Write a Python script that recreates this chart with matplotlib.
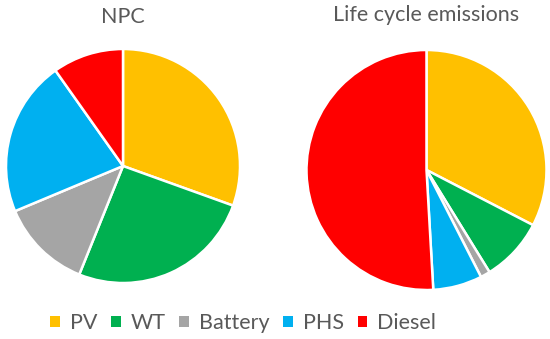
import matplotlib.pyplot as plt
from matplotlib.patches import Patch

plt.rcParams['font.family'] = ['Lato', 'DejaVu Sans']

# data (shares in %)
labels = ['PV', 'WT', 'Battery', 'PHS', 'Diesel']
colors = ['#FFC000', '#00B050', '#A5A5A5', '#00B0F0', '#FF0000']
npc = [30.5, 25.6, 12.6, 21.5, 9.8]
emissions = [32.6, 8.6, 1.3, 6.6, 50.9]

text_col = '#595959'

fig = plt.figure(figsize=(5.5, 3.39), dpi=100)
W, H = 550, 339

def pie_axes(cx, cy, r):
    return fig.add_axes([(cx - r) / W, 1 - (cy + r) / H, 2 * r / W, 2 * r / H])

ax1 = pie_axes(123, 166, 117)
ax2 = pie_axes(426.5, 170, 120)

for ax, vals in [(ax1, npc), (ax2, emissions)]:
    ax.pie(vals, colors=colors, startangle=90, counterclock=False,
           wedgeprops=dict(edgecolor='white', linewidth=1.8))
    ax.set_xlim(-1, 1)
    ax.set_ylim(-1, 1)
    ax.set_aspect('equal')
ax1.set_title('NPC', color=text_col, fontsize=15.5, pad=19)
ax2.set_title('Life cycle emissions', color=text_col, fontsize=15.5, pad=21)

handles = [Patch(facecolor=c, label=l) for c, l in zip(colors, labels)]
leg = fig.legend(handles=handles, loc='center', bbox_to_anchor=(243 / W, 1 - 323 / H),
                 ncol=5, frameon=False, fontsize=15.5, handlelength=0.45, handleheight=0.45,
                 handletextpad=0.45, columnspacing=0.65)
for t in leg.get_texts():
    t.set_color(text_col)

fig.savefig('out.png', dpi=100)
